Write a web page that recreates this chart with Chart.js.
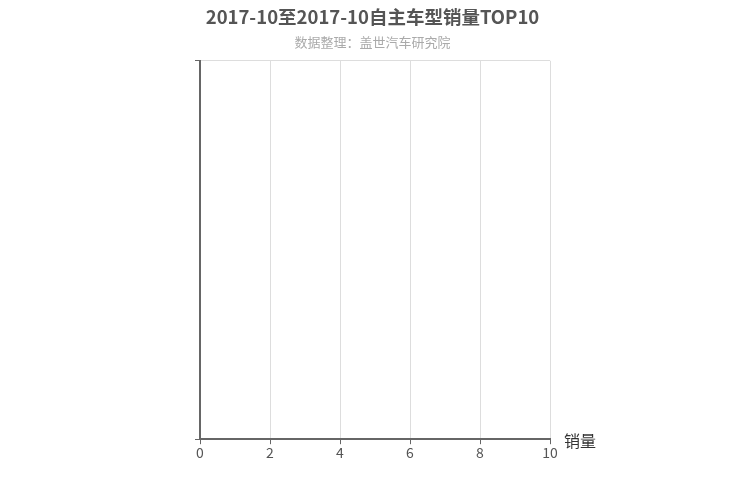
<!DOCTYPE html>
<html>
<head>
<meta charset="utf-8">
<script src="https://cdn.jsdelivr.net/npm/chart.js@4"></script>
<style>
  html, body { margin: 0; padding: 0; background: #fff; }
  #wrap { width: 750px; height: 500px; }
</style>
</head>
<body>
<div id="wrap"><canvas id="myChart"></canvas></div>
<script>
// no models in this period, so the lists are empty
const categories = [];
const sales = [];
const xTicks = [0, 2, 4, 6, 8, 10];

const FONT = '"Noto Sans CJK SC", "Noto Sans", sans-serif';

// axis name "销量" at the right end of the x axis
const axisName = {
  id: 'axisName',
  afterDraw(chart) {
    const ctx = chart.ctx;
    const area = chart.chartArea;
    ctx.save();
    ctx.font = '16px ' + FONT;
    ctx.fillStyle = '#333';
    ctx.textAlign = 'left';
    ctx.textBaseline = 'middle';
    ctx.fillText('销量', area.right + 14, area.bottom + 2);
    ctx.restore();
  }
};

var ctx = document.getElementById('myChart').getContext('2d');

var myChart = new Chart(ctx, {
  type: 'bar',
  data: {
    labels: categories,
    datasets: [
      {
        label: '销量',
        data: sales,
        backgroundColor: '#5b9bd5',
        yAxisID: 'y',
      },
    ],
  },
  plugins: [axisName],
  options: {
    indexAxis: 'y',
    responsive: true,
    maintainAspectRatio: false,
    animation: false,
    layout: {
      padding: { left: 195, right: 200, top: 0, bottom: 39 },
    },
    plugins: {
      legend: { display: false },
      tooltip: { enabled: false },
      title: {
        display: true,
        text: '2017-10至2017-10自主车型销量TOP10',
        color: '#555',
        font: { family: FONT, size: 18.5, weight: 'bold' },
        padding: { top: 6, bottom: 6 },
      },
      subtitle: {
        display: true,
        text: '数据整理：盖世汽车研究院',
        color: '#aaa',
        font: { family: FONT, size: 13 },
        padding: { top: 0, bottom: 11 },
      },
    },
    scales: {
      x: {
        type: 'linear',
        min: xTicks[0],
        max: xTicks[xTicks.length - 1],
        ticks: {
          stepSize: xTicks[1] - xTicks[0],
          color: '#555',
          padding: 0,
          maxRotation: 0,
          font: { family: FONT, size: 14 },
        },
        grid: {
          color: '#ddd',
          tickColor: '#666',
          tickLength: 5,
        },
        border: { color: '#666', width: 2 },
      },
      y: {
        type: 'category',
        display: false,
      },
      // empty category axis: just the left line, top/bottom ticks and a top border
      frame: {
        type: 'linear',
        axis: 'y',
        position: 'left',
        min: 0,
        max: 1,
        offset: false,
        ticks: { display: false, stepSize: 1 },
        grid: {
          offset: false,
          color: c => (c.tick && c.tick.value === c.scale.max ? '#ddd' : 'rgba(0,0,0,0)'),
          tickColor: '#666',
          tickLength: 5,
        },
        border: { color: '#666', width: 2 },
      },
    },
  },
});
</script>
</body>
</html>
